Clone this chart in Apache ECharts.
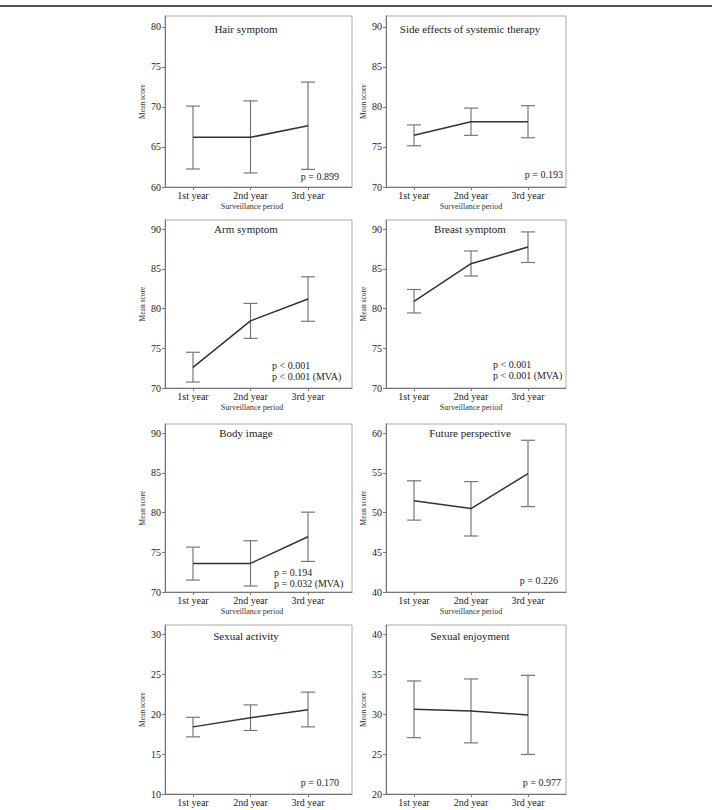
<!DOCTYPE html>
<html>
<head>
<meta charset="utf-8">
<script src="https://cdn.jsdelivr.net/npm/echarts@6/dist/echarts.min.js"></script>
<style>
  html, body { margin: 0; padding: 0; background: #fff; }
  #chart { width: 714px; height: 810px; }
</style>
</head>
<body>
<div id="chart"></div>
<script>
// Dados
const categories = ['1st year', '2nd year', '3rd year'];
const titles = ['Hair symptom', 'Side effects of systemic therapy', 'Arm symptom', 'Breast symptom',
  'Body image', 'Future perspective', 'Sexual activity', 'Sexual enjoyment'];
const yMins = [60, 70, 70, 70, 70, 40, 10, 20];
const yTicks = [0, 5, 10, 15, 20];

const hairMean = [66.2, 66.2, 67.65];
const hairLow = [62.25, 61.75, 62.2];
const hairHigh = [70.1, 70.75, 73.1];

const sideMean = [76.45, 78.15, 78.15];
const sideLow = [75.15, 76.45, 76.15];
const sideHigh = [77.75, 79.85, 80.15];

const armMean = [72.6, 78.45, 81.2];
const armLow = [70.75, 76.25, 78.4];
const armHigh = [74.5, 80.65, 84.0];

const breastMean = [80.9, 85.65, 87.75];
const breastLow = [79.45, 84.1, 85.8];
const breastHigh = [82.4, 87.25, 89.65];

const bodyMean = [73.6, 73.6, 76.95];
const bodyLow = [71.5, 70.75, 73.85];
const bodyHigh = [75.65, 76.45, 80.05];

const futureMean = [51.5, 50.5, 54.9];
const futureLow = [49.05, 47.05, 50.75];
const futureHigh = [54.0, 53.9, 59.1];

const activityMean = [18.4, 19.55, 20.55];
const activityLow = [17.15, 17.95, 18.4];
const activityHigh = [19.6, 21.15, 22.75];

const enjoyMean = [30.6, 30.4, 29.9];
const enjoyLow = [27.05, 26.4, 24.95];
const enjoyHigh = [34.15, 34.4, 34.85];

const pTexts = [
  ['p = 0.899'],
  ['p = 0.193'],
  ['p < 0.001', 'p < 0.001 (MVA)'],
  ['p < 0.001', 'p < 0.001 (MVA)'],
  ['p = 0.194', 'p = 0.032 (MVA)'],
  ['p = 0.226'],
  ['p = 0.170'],
  ['p = 0.977']
];

const means = [hairMean, sideMean, armMean, breastMean, bodyMean, futureMean, activityMean, enjoyMean];
const lows = [hairLow, sideLow, armLow, breastLow, bodyLow, futureLow, activityLow, enjoyLow];
const highs = [hairHigh, sideHigh, armHigh, breastHigh, bodyHigh, futureHigh, activityHigh, enjoyHigh];

// Layout
const colLeft = [165, 386];
const colWidth = [187, 180];
const colXMin = [1 - 28 / 57.5, 1 - 28 / 57];
const colXMax = [3 + 44 / 57.5, 3 + 38 / 57];
const rowTop = [16, 220, 424, 625];
const rowBottom = [187, 388, 592, 794];
const rowSpan = [21.35, 21.15, 21.15, 21.15];
const titleX = [246, 470];
const titleY = [29, 229, 433, 636];
const nameX = [252, 471];

// posição dos textos de p (x, y da primeira linha, alinhamento)
const pPos = [
  [339, 176, 'right'], [563, 174, 'right'],
  [272, 365, 'left'], [493, 364, 'left'],
  [274, 572, 'left'], [558, 580, 'right'],
  [339, 782, 'right'], [561, 782, 'right']
];

const font = 'Liberation Serif, DejaVu Serif, serif';
const chart = echarts.init(document.getElementById('chart'), null, { renderer: 'svg' });

const grids = [], xAxes = [], yAxes = [], series = [];
const graphics = [{
  type: 'line',
  shape: { x1: 0, y1: 6, x2: 712, y2: 6 },
  style: { stroke: '#555', lineWidth: 2 }
}];

for (let i = 0; i < 8; i++) {
  const col = i % 2;
  const row = Math.floor(i / 2);
  const yMin = yMins[i];

  grids.push({
    left: colLeft[col],
    top: rowTop[row],
    width: colWidth[col],
    height: rowBottom[row] - rowTop[row],
    show: true,
    borderColor: '#aaa',
    borderWidth: 1,
    backgroundColor: 'transparent'
  });

  xAxes.push({
    type: 'value',
    gridIndex: i,
    min: colXMin[col],
    max: colXMax[col],
    axisLine: { show: true, lineStyle: { color: '#777' } },
    axisTick: { show: true, length: 3, customValues: [1, 2, 3], lineStyle: { color: '#777' } },
    axisLabel: {
      customValues: [1, 2, 3],
      formatter: v => categories[Math.round(v) - 1],
      fontSize: 10, fontFamily: font, color: '#222', margin: 3
    },
    splitLine: { show: false }
  });

  const ticks = yTicks.map(t => yMin + t);
  yAxes.push({
    type: 'value',
    gridIndex: i,
    min: yMin,
    max: yMin + rowSpan[row],
    name: 'Mean score',
    nameLocation: 'middle',
    nameGap: 19,
    nameTextStyle: { fontSize: 7.5, fontFamily: font, color: '#333' },
    axisLine: { show: true, lineStyle: { color: '#777' } },
    axisTick: { show: true, length: 3, customValues: ticks, lineStyle: { color: '#777' } },
    axisLabel: { customValues: ticks, fontSize: 10, fontFamily: font, color: '#222', margin: 4 },
    splitLine: { show: false }
  });

  // barras de erro (IC)
  series.push({
    type: 'custom',
    xAxisIndex: i,
    yAxisIndex: i,
    data: lows[i].map((lo, k) => [k + 1, lo, highs[i][k]]),
    encode: { x: 0, y: [1, 2] },
    renderItem: function (params, api) {
      const lo = api.coord([api.value(0), api.value(1)]);
      const hi = api.coord([api.value(0), api.value(2)]);
      const w = 7;
      const st = { stroke: '#777', lineWidth: 1.2 };
      return {
        type: 'group',
        children: [
          { type: 'line', shape: { x1: lo[0], y1: lo[1], x2: hi[0], y2: hi[1] }, style: st },
          { type: 'line', shape: { x1: hi[0] - w, y1: hi[1], x2: hi[0] + w, y2: hi[1] }, style: st },
          { type: 'line', shape: { x1: lo[0] - w, y1: lo[1], x2: lo[0] + w, y2: lo[1] }, style: st }
        ]
      };
    },
    z: 2
  });

  // médias
  series.push({
    type: 'line',
    xAxisIndex: i,
    yAxisIndex: i,
    data: means[i].map((m, k) => [k + 1, m]),
    symbol: 'none',
    lineStyle: { color: '#333', width: 1.5 },
    z: 3
  });

  graphics.push({
    type: 'text',
    x: titleX[col], y: titleY[row],
    style: { text: titles[i], font: '11px ' + font, fill: '#222', align: 'center', verticalAlign: 'middle' }
  });

  // a última linha fica cortada na figura original
  if (row < 3) {
    graphics.push({
      type: 'text',
      x: nameX[col], y: rowBottom[row] + 19,
      style: { text: 'Surveillance period', font: '8px ' + font, fill: '#333', align: 'center', verticalAlign: 'middle' }
    });
  }

  const p = pPos[i];
  pTexts[i].forEach((t, k) => {
    graphics.push({
      type: 'text',
      x: p[0], y: p[1] + k * 11,
      style: { text: t, font: '10px ' + font, fill: '#222', align: p[2], verticalAlign: 'middle' }
    });
  });
}

chart.setOption({
  animation: false,
  grid: grids,
  xAxis: xAxes,
  yAxis: yAxes,
  series: series,
  graphic: graphics
});

window.addEventListener('resize', function () {
  chart.resize();
});
</script>
</body>
</html>
